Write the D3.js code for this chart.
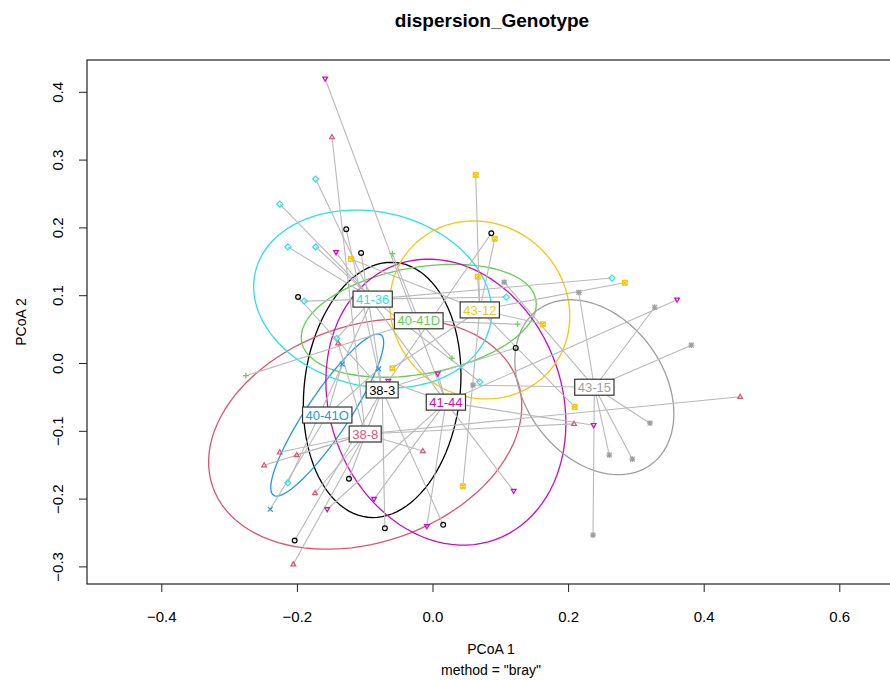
<!DOCTYPE html>
<html>
<head>
<meta charset="utf-8">
<script src="https://cdn.jsdelivr.net/npm/d3@7"></script>
<style>
	body { margin: 0; background: #fff; }
	svg { display: block; font-family: "Liberation Sans", Arial, sans-serif; }
</style>
</head>
<body>
<div id="figure"></div>
<script>
// group names, colours and symbols (R palette, pch 1..8)
const groups = ['38-3', '38-8', '40-41D', '40-41O', '41-36', '41-44', '43-12', '43-15']
const colors = ['#000000', '#DF536B', '#61D04F', '#2297E6', '#28E2E5', '#CD0BBC', '#F5C710', '#9E9E9E']
const shapes = ['circle', 'triangle', 'plus', 'cross', 'diamond', 'triangleDown', 'squareX', 'star']

// PCoA scores per group [PCoA1, PCoA2]
const sites38_3 = [[-0.128, 0.198], [-0.106, 0.163], [-0.199, 0.098], [0.086, 0.192], [0.122, 0.023],
	[-0.124, -0.170], [-0.071, -0.243], [0.015, -0.238], [-0.204, -0.261]]
const sites38_8 = [[-0.149, 0.334], [-0.140, 0.030], [-0.226, -0.131], [-0.201, -0.135], [-0.249, -0.150],
	[-0.015, -0.129], [-0.174, -0.191], [-0.206, -0.296], [0.208, -0.089], [0.453, -0.049]]
const sites40_41D = [[-0.060, 0.162], [0.028, 0.008], [-0.276, -0.018], [0.125, 0.058]]
const sites40_41O = [[-0.134, -0.001], [-0.080, -0.008], [-0.240, -0.215]]
const sites41_36 = [[-0.173, 0.272], [-0.226, 0.235], [-0.214, 0.172], [-0.173, 0.172], [-0.190, 0.092],
	[-0.142, 0.037], [0.264, 0.126], [0.108, 0.098], [0.069, -0.027], [-0.214, -0.176]]
const sites41_44 = [[-0.159, 0.420], [-0.143, 0.164], [-0.066, -0.026], [0.007, -0.015], [0.360, 0.094],
	[0.237, -0.091], [-0.156, -0.215], [-0.087, -0.200], [-0.009, -0.240], [0.119, -0.188]]
const sites43_12 = [[0.063, 0.278], [0.091, 0.184], [0.066, 0.128], [0.283, 0.119], [0.162, 0.058],
	[-0.121, 0.154], [-0.060, -0.007], [0.209, -0.064], [0.044, -0.181]]
const sites43_15 = [[0.105, 0.120], [0.215, 0.105], [0.327, 0.083], [0.381, 0.027], [0.320, -0.088],
	[0.260, -0.135], [0.294, -0.141], [0.059, -0.032], [0.236, -0.253]]
const sites = [sites38_3, sites38_8, sites40_41D, sites40_41O, sites41_36, sites41_44, sites43_12, sites43_15]

// group centroids
const centroids = [[-0.075, -0.039], [-0.100, -0.104], [-0.021, 0.063], [-0.156, -0.076],
	[-0.089, 0.095], [0.019, -0.057], [0.069, 0.079], [0.238, -0.035]]

// sd ellipses: semi-major, semi-minor, angle (deg)
const ellA = [0.189, 0.238, 0.1755, 0.1423, 0.1776, 0.2155, 0.1366, 0.1414]
const ellB = [0.115, 0.160, 0.0786, 0.0311, 0.1285, 0.1714, 0.1273, 0.1020]
const ellAngle = [83.5, 19, 10.1, 56.2, -12.8, -70.2, -40.4, -53.8]

const xTicks = [-0.4, -0.2, 0.0, 0.2, 0.4, 0.6]
const yTicks = [-0.3, -0.2, -0.1, 0.0, 0.1, 0.2, 0.3, 0.4]

const W = 890, H = 680
const mLeft = 87, mTop = 60, mRight = 895, mBottom = 584

const svg = d3.select('#figure').append('svg')
	.attr('width', W)
	.attr('height', H)

const x = d3.scaleLinear().domain([-0.4, 0.6]).range([161.8, 839.8])
const y = d3.scaleLinear().domain([-0.3, 0.4]).range([566.9, 92.3])

svg.append('defs').append('clipPath').attr('id', 'clip')
	.append('rect')
	.attr('x', mLeft).attr('y', mTop)
	.attr('width', mRight - mLeft).attr('height', mBottom - mTop)

const plot = svg.append('g').attr('clip-path', 'url(#clip)')

// ellipses
const line = d3.line().x(d => x(d[0])).y(d => y(d[1]))
for (let g = 0; g < groups.length; g++) {
	const c = centroids[g]
	const phi = ellAngle[g] * Math.PI / 180
	const pts = []
	for (let k = 0; k <= 100; k++) {
		const t = 2 * Math.PI * k / 100
		pts.push([
			c[0] + ellA[g] * Math.cos(phi) * Math.cos(t) - ellB[g] * Math.sin(phi) * Math.sin(t),
			c[1] + ellA[g] * Math.sin(phi) * Math.cos(t) + ellB[g] * Math.cos(phi) * Math.sin(t)
		])
	}
	plot.append('path')
		.attr('d', line(pts))
		.attr('fill', 'none')
		.attr('stroke', colors[g])
		.attr('stroke-width', 1.3)
}

// segments to centroids
for (let g = 0; g < groups.length; g++) {
	plot.append('g')
		.selectAll('line')
		.data(sites[g])
		.enter()
		.append('line')
		.attr('x1', d => x(d[0]))
		.attr('y1', d => y(d[1]))
		.attr('x2', x(centroids[g][0]))
		.attr('y2', y(centroids[g][1]))
		.attr('stroke', '#b9b9b9')
		.attr('stroke-width', 1.1)
}

// point symbols
function symbolPath(shape, s) {
	const r = s
	switch (shape) {
		case 'triangle':
			return `M0,${-r * 1.05}L${r},${r * 0.7}L${-r},${r * 0.7}Z`
		case 'triangleDown':
			return `M0,${r * 1.05}L${r},${-r * 0.7}L${-r},${-r * 0.7}Z`
		case 'plus':
			return `M${-r * 1.2},0H${r * 1.2}M0,${-r * 1.2}V${r * 1.2}`
		case 'cross':
			return `M${-r},${-r}L${r},${r}M${-r},${r}L${r},${-r}`
		case 'diamond':
			return `M0,${-r * 1.25}L${r * 1.25},0L0,${r * 1.25}L${-r * 1.25},0Z`
		case 'squareX':
			return `M${-r},${-r}H${r}V${r}H${-r}ZM${-r},${-r}L${r},${r}M${-r},${r}L${r},${-r}`
		case 'star':
			return `M${-r * 1.2},0H${r * 1.2}M0,${-r * 1.2}V${r * 1.2}M${-r},${-r}L${r},${r}M${-r},${r}L${r},${-r}`
	}
	return ''
}

for (let g = 0; g < groups.length; g++) {
	const pg = plot.append('g')
	sites[g].forEach(d => {
		if (shapes[g] === 'circle') {
			pg.append('circle')
				.attr('cx', x(d[0]))
				.attr('cy', y(d[1]))
				.attr('r', 2.4)
				.attr('fill', 'none')
				.attr('stroke', colors[g])
				.attr('stroke-width', 1.2)
		} else {
			pg.append('path')
				.attr('transform', `translate(${x(d[0])},${y(d[1])})`)
				.attr('d', symbolPath(shapes[g], 2.4))
				.attr('fill', 'none')
				.attr('stroke', colors[g])
				.attr('stroke-width', 1.2)
		}
	})
}

// centroid labels
for (let g = 0; g < groups.length; g++) {
	const lg = svg.append('g')
		.attr('transform', `translate(${x(centroids[g][0])},${y(centroids[g][1])})`)
	const rect = lg.append('rect')
	const txt = lg.append('text')
		.attr('text-anchor', 'middle')
		.attr('dy', '0.35em')
		.attr('font-size', 13)
		.attr('fill', colors[g])
		.text(groups[g])
	const w = txt.node().getComputedTextLength()
	rect.attr('x', -w / 2 - 3)
		.attr('y', -8)
		.attr('width', w + 6)
		.attr('height', 16)
		.attr('fill', '#fff')
		.attr('stroke', '#333')
		.attr('stroke-width', 1.2)
}

// box
svg.append('rect')
	.attr('x', mLeft).attr('y', mTop)
	.attr('width', mRight - mLeft).attr('height', mBottom - mTop)
	.attr('fill', 'none')
	.attr('stroke', '#222')
	.attr('stroke-width', 1.2)

// x axis ticks
const xa = svg.append('g')
xa.selectAll('line').data(xTicks).enter().append('line')
	.attr('x1', d => x(d)).attr('x2', d => x(d))
	.attr('y1', mBottom).attr('y2', mBottom + 8)
	.attr('stroke', '#222')
xa.selectAll('text').data(xTicks).enter().append('text')
	.attr('x', d => x(d))
	.attr('y', 617)
	.attr('dy', '0.35em')
	.attr('text-anchor', 'middle')
	.attr('font-size', 15)
	.text(d => d3.format('.1f')(d))

// y axis ticks
const ya = svg.append('g')
ya.selectAll('line').data(yTicks).enter().append('line')
	.attr('x1', mLeft - 8).attr('x2', mLeft)
	.attr('y1', d => y(d)).attr('y2', d => y(d))
	.attr('stroke', '#222')
ya.selectAll('text').data(yTicks).enter().append('text')
	.attr('transform', d => `translate(58,${y(d)}) rotate(-90)`)
	.attr('dy', '0.35em')
	.attr('text-anchor', 'middle')
	.attr('font-size', 15)
	.text(d => d3.format('.1f')(d))

// titles
svg.append('text')
	.attr('x', 492).attr('y', 27)
	.attr('text-anchor', 'middle')
	.attr('font-size', 19)
	.attr('font-weight', 'bold')
	.text('dispersion_Genotype')

svg.append('text')
	.attr('x', 491).attr('y', 654)
	.attr('text-anchor', 'middle')
	.attr('font-size', 14)
	.text('PCoA 1')

svg.append('text')
	.attr('x', 491).attr('y', 675)
	.attr('text-anchor', 'middle')
	.attr('font-size', 14)
	.text('method = "bray"')

svg.append('text')
	.attr('transform', `translate(26,322) rotate(-90)`)
	.attr('text-anchor', 'middle')
	.attr('font-size', 14)
	.text('PCoA 2')
</script>
</body>
</html>
